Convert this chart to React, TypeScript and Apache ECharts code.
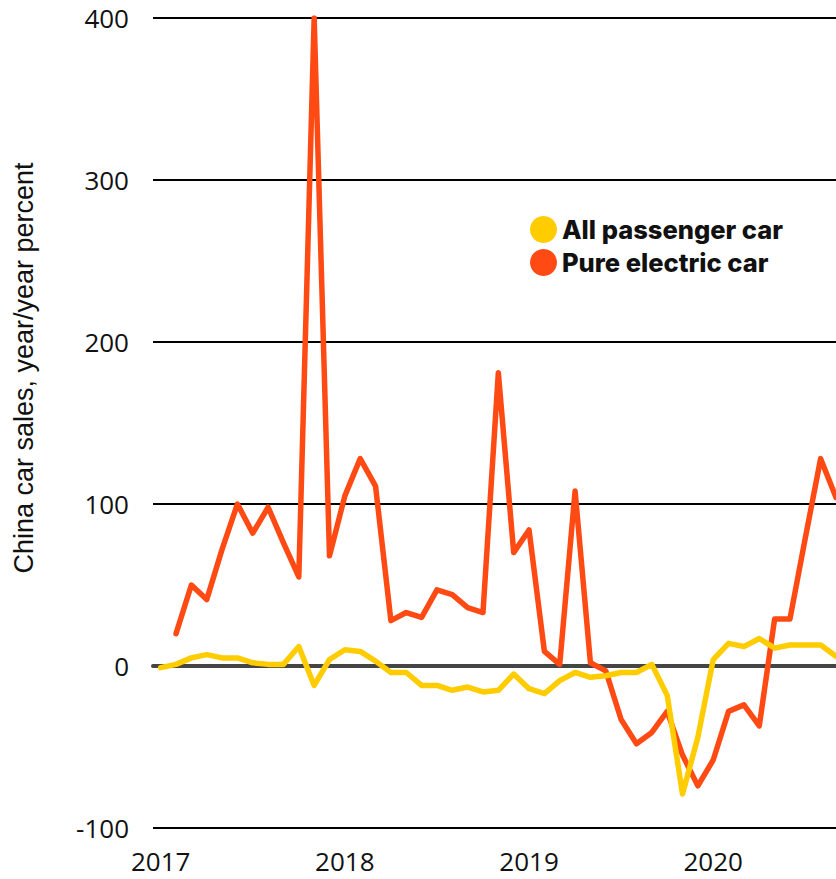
import React, { useEffect, useRef } from "react";
import * as echarts from "echarts";

// Monthly year-over-year change in China car sales, Jan 2017 onwards (index 0 = Jan 2017)
const startYear = 2017;
const yearTickMonths = [0, 12, 24, 36];
const yTicks = { min: -100, max: 400, interval: 100 };

const allPassengerCar: (number | null)[] = [
  -1, 1, 5, 7, 5, 5, 2, 1, 1, 12, -12, 4,
  10, 9, 3, -4, -4, -12, -12, -15, -13, -16, -15, -5,
  -14, -17, -9, -4, -7, -6, -4, -4, 1, -18, -79, -44,
  4, 14, 12, 17, 11, 13, 13, 13, 6,
];

const pureElectricCar: (number | null)[] = [
  null, 20, 50, 41, 72, 100, 82, 98, 76, 55, 400, 68,
  105, 128, 111, 28, 33, 30, 47, 44, 36, 33, 181, 70,
  84, 9, 1, 108, 2, -3, -33, -48, -41, -28, -55, -74,
  -58, -28, -24, -37, 29, 29, 79, 128, 104,
];

const seriesNames = ["All passenger car", "Pure electric car"];
const seriesColors = ["#FFCC00", "#FF4A14"];

const toPoints = (values: (number | null)[]) =>
  values.map((v, i) => [i, v]);

const tickFont = "'Open Sans', 'Liberation Sans', sans-serif";

export default function App() {
  const ref = useRef<HTMLDivElement>(null);

  useEffect(() => {
    if (!ref.current) return;
    const chart = echarts.init(ref.current, undefined, { renderer: "svg" });
    const xMin = -0.5;
    const xMax = allPassengerCar.length - 1;

    chart.setOption({
      animation: false,
      backgroundColor: "#ffffff",
      grid: { left: 153, right: 0, top: 18, bottom: 51, containLabel: false },
      legend: {
        orient: "vertical",
        left: 525,
        top: 211,
        icon: "circle",
        itemWidth: 27,
        itemHeight: 27,
        itemGap: 6,
        selectedMode: false,
        data: [seriesNames[0], seriesNames[1]],
        textStyle: {
          fontFamily: "Inter, 'Noto Sans', sans-serif",
          fontWeight: 800,
          fontSize: 25.5,
          color: "#111111",
        },
      },
      graphic: [
        {
          type: "text",
          x: 24,
          y: 368,
          rotation: Math.PI / 2,
          style: {
            text: "China car sales, year/year percent",
            font: "27px 'Liberation Sans', Arial, sans-serif",
            fill: "#111111",
            align: "center",
            verticalAlign: "middle",
          },
        },
      ],
      xAxis: [
        {
          type: "value",
          min: xMin,
          max: xMax,
          position: "bottom",
          axisLine: { show: false, onZero: false },
          axisTick: { show: false },
          splitLine: { show: false },
          axisLabel: {
            customValues: yearTickMonths,
            formatter: (v: number) => String(startYear + Math.round(v / 12)),
            fontFamily: tickFont,
            fontSize: 26,
            lineHeight: 26,
            color: "#111111",
            margin: 20,
          },
        },
        {
          // zero baseline
          type: "value",
          min: xMin,
          max: xMax,
          position: "top",
          axisLine: {
            show: true,
            onZero: true,
            lineStyle: { color: "#454545", width: 4 },
          },
          axisTick: { show: false },
          axisLabel: { show: false },
          splitLine: { show: false },
        },
      ],
      yAxis: {
        type: "value",
        min: yTicks.min,
        max: yTicks.max,
        interval: yTicks.interval,
        axisLine: { show: false },
        axisTick: { show: false },
        splitLine: { show: true, lineStyle: { color: "#000000", width: 2 } },
        axisLabel: {
          fontFamily: tickFont,
          fontSize: 26,
          color: "#111111",
          margin: 24,
        },
      },
      series: [
        {
          name: seriesNames[1],
          type: "line",
          xAxisIndex: 0,
          data: toPoints(pureElectricCar),
          showSymbol: false,
          connectNulls: false,
          color: seriesColors[1],
          lineStyle: { width: 5.5, color: seriesColors[1], join: "round", cap: "round" },
          z: 3,
        },
        {
          name: seriesNames[0],
          type: "line",
          xAxisIndex: 0,
          data: toPoints(allPassengerCar),
          showSymbol: false,
          color: seriesColors[0],
          lineStyle: { width: 5.5, color: seriesColors[0], join: "round", cap: "round" },
          z: 4,
        },
      ],
    });

    return () => chart.dispose();
  }, []);

  return (
    <div
      ref={ref}
      style={{ position: "absolute", left: 0, top: 0, width: 836, height: 879 }}
    />
  );
}
